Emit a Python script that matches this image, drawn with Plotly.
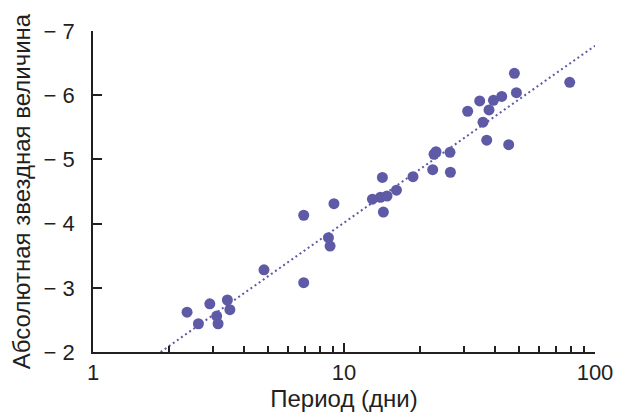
import plotly.graph_objects as go

period = [2.37, 2.63, 2.92, 3.11, 3.15, 3.43, 3.51, 4.80, 6.91, 6.91, 8.67, 8.80, 9.12,
          12.98, 13.96, 14.84, 14.35, 14.22, 16.18, 18.83, 22.56, 22.84, 23.26, 26.44, 26.54,
          31.10, 34.72, 35.79, 37.03, 37.82, 39.38, 42.5, 45.31, 47.74, 48.63, 79.3]
magnitude = [-2.62, -2.44, -2.75, -2.56, -2.44, -2.81, -2.66, -3.28, -3.08, -4.13, -3.78, -3.65, -4.31,
             -4.38, -4.41, -4.43, -4.18, -4.72, -4.52, -4.73, -4.84, -5.08, -5.12, -5.11, -4.80,
             -5.75, -5.91, -5.58, -5.30, -5.77, -5.92, -5.98, -5.23, -6.34, -6.04, -6.20]

fit_period = [1.86, 100]
fit_magnitude = [-2.0, -6.77]

y_tickvals = [-7, -6, -5, -4, -3, -2]
y_ticktext = ["\u2212 7", "\u2212 6", "\u2212 5", "\u2212 4", "\u2212 3", "\u2212 2"]
x_tickvals = [1, 10, 100]
x_ticktext = ["1", "10", "100"]

color = "#5F5AA6"
ink = "#231F20"
font = "Liberation Sans, Arial, sans-serif"

fig = go.Figure()
fig.add_trace(go.Scatter(x=fit_period, y=fit_magnitude, mode="lines",
                         line=dict(color=color, width=2, dash="2px,3px"),
                         hoverinfo="skip", showlegend=False))
fig.add_trace(go.Scatter(x=period, y=magnitude, mode="markers",
                         marker=dict(color=color, size=11, line=dict(width=0)),
                         showlegend=False))

fig.update_layout(
    width=619, height=414,
    margin=dict(l=93, r=24, t=31, b=62),
    plot_bgcolor="white", paper_bgcolor="white",
    font=dict(family=font, size=21, color=ink),
    xaxis=dict(type="log", range=[0, 2], tickvals=x_tickvals, ticktext=x_ticktext,
               automargin=False,
               ticks="inside", ticklen=9, tickwidth=1.5, tickcolor=ink,
               minor=dict(ticks="inside", ticklen=6, tickwidth=1.5, tickcolor=ink,
                          dtick="D1", showgrid=False),
               showline=True, linecolor=ink, linewidth=1.8, showgrid=False, zeroline=False,
               tickfont=dict(size=22), ticklabelstandoff=0,
               title=dict(text="Период (дни)", font=dict(size=24), standoff=4)),
    yaxis=dict(range=[-2, -7], tickvals=y_tickvals, ticktext=y_ticktext,
               automargin=False,
               ticks="inside", ticklen=9, tickwidth=1.5, tickcolor=ink,
               showline=True, linecolor=ink, linewidth=1.8, showgrid=False, zeroline=False,
               tickfont=dict(size=22), ticklabelstandoff=12,
               title=dict(text="Абсолютная звездная величина", font=dict(size=24), standoff=6)),
)

fig.write_html("out.html")
